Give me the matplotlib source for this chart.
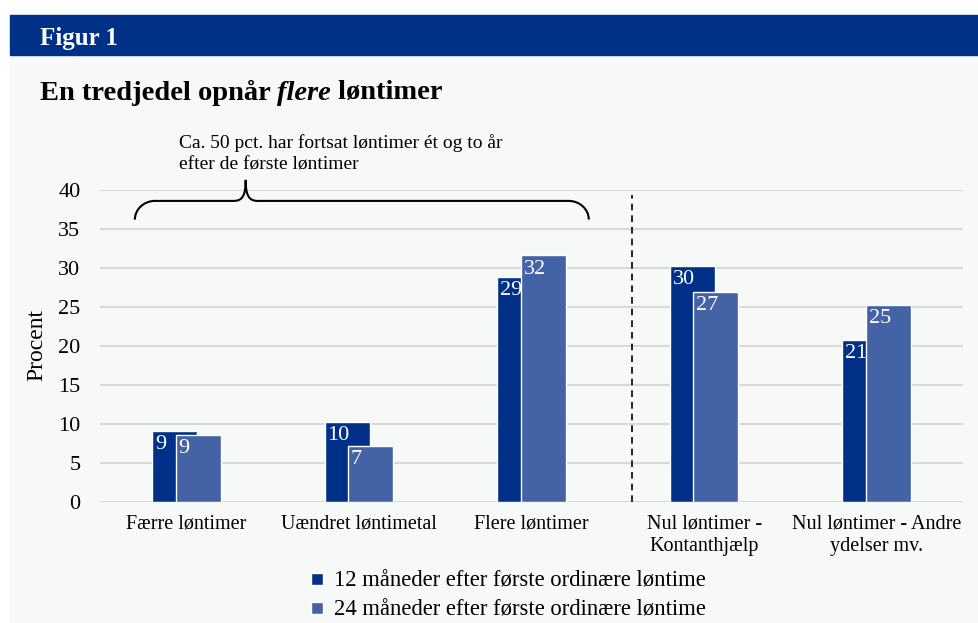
import matplotlib
matplotlib.use("Agg")
import matplotlib.pyplot as plt
from matplotlib.patches import Rectangle
from matplotlib.path import Path
from matplotlib.patches import PathPatch
from matplotlib.lines import Line2D
import numpy as np

# Data
categories = ["Færre løntimer", "Uændret løntimetal", "Flere løntimer",
              "Nul løntimer -\nKontanthjælp", "Nul løntimer - Andre\nydelser mv."]
values_12 = [9.1, 10.2, 28.8, 30.3, 20.8]
values_24 = [8.6, 7.2, 31.6, 26.9, 25.2]
series_names = ["12 måneder efter første ordinære løntime",
                "24 måneder efter første ordinære løntime"]
yticks = [0, 5, 10, 15, 20, 25, 30, 35, 40]

DARK = "#003087"
LIGHT = "#4363A6"
BG = "#F7F8F8"
GRID = "#D9D9D9"
FONT = "Liberation Serif"

plt.rcParams['font.family'] = [FONT, 'DejaVu Serif']

W, H = 979, 623
fig = plt.figure(figsize=(W / 100, H / 100), dpi=100)
fig.patch.set_facecolor("white")

# Background panel and header band
fig.patches.append(Rectangle((10 / W, 0), 1 - 10 / W, 1 - 55 / H,
                             transform=fig.transFigure, color=BG, zorder=-10))
fig.patches.append(Rectangle((10 / W, 1 - 55 / H), 1 - 10 / W, 40 / H,
                             transform=fig.transFigure, color=DARK, zorder=-10))

fig.text(40 / W, 1 - 44.5 / H, "Figur 1", color="white", fontsize=18,
         fontweight="bold", va="baseline", ha="left")

# Title with italic word
title_y = 1 - 99.5 / H
t1 = fig.text(40 / W, title_y, "En tredjedel opnår ", fontsize=20.5,
              fontweight="bold", va="baseline", ha="left")
fig.canvas.draw()
r = fig.canvas.get_renderer()
x2 = t1.get_window_extent(r).x1 / W
t2 = fig.text(x2, title_y, "flere", fontsize=20.5, fontweight="bold",
              fontstyle="italic", va="baseline", ha="left")
x3 = t2.get_window_extent(r).x1 / W
fig.text(x3, title_y, " løntimer", fontsize=20.5, fontweight="bold",
         va="baseline", ha="left")

ax = fig.add_axes([100 / W, 1 - 501.7 / H, 863 / W, (501.7 - 190) / H])
ax.set_facecolor("none")

x = np.arange(len(categories))
bw = 0.261
off = 0.068
bars12 = ax.bar(x - off, values_12, bw, color=DARK, edgecolor="white",
                linewidth=1, zorder=3)
bars24 = ax.bar(x + off, values_24, bw, color=LIGHT, edgecolor="white",
                linewidth=1, zorder=4)

for bars, vals in ((bars12, values_12), (bars24, values_24)):
    for b, v in zip(bars, vals):
        ax.annotate(f"{int(v + 0.5)}", (b.get_x(), v), xytext=(2, -3),
                    textcoords="offset points", ha="left", va="top",
                    color="white", fontsize=16, zorder=5)

ax.set_xlim(-0.5, len(categories) - 0.5)
ax.set_ylim(0, 40)
ax.set_yticks(yticks)
ax.set_xticks(x)
ax.set_xticklabels(categories, fontsize=14.5, linespacing=1.3)
ax.tick_params(axis="y", length=0, pad=14, labelsize=16)
ax.tick_params(axis="x", length=0, pad=9)
ax.grid(axis="y", color=GRID, linewidth=1.5, zorder=0)
ax.set_axisbelow(True)
for s in ax.spines.values():
    s.set_visible(False)

fig.text(37 / W, 1 - 345 / H, "Procent", rotation=90, fontsize=17,
         ha="center", va="center")

# Dashed separator
ax.plot([2.58, 2.58], [0, 39.4], color="black", linestyle=(0, (4, 3)),
        linewidth=1.2, zorder=2, clip_on=False)

# Curly brace over the first three groups
xl, xr, xt = -0.298, 2.332, 0.344
yb, ym, ytip = 36.2, 38.6, 41.3
dx = 0.116
tx = 0.07
verts = [(xl, yb), (xl, yb + 0.55 * (ym - yb)), (xl + 0.45 * dx, ym), (xl + dx, ym),
         (xt - tx, ym),
         (xt - 0.3 * tx, ym), (xt, ym + 0.6), (xt, ytip),
         (xt, ym + 0.6), (xt + 0.3 * tx, ym), (xt + tx, ym),
         (xr - dx, ym),
         (xr - 0.45 * dx, ym), (xr, yb + 0.55 * (ym - yb)), (xr, yb)]
codes = [Path.MOVETO, Path.CURVE4, Path.CURVE4, Path.CURVE4,
         Path.LINETO,
         Path.CURVE4, Path.CURVE4, Path.CURVE4,
         Path.CURVE4, Path.CURVE4, Path.CURVE4,
         Path.LINETO,
         Path.CURVE4, Path.CURVE4, Path.CURVE4]
ax.add_patch(PathPatch(Path(verts, codes), facecolor="none",
                       edgecolor="black", linewidth=1.5, clip_on=False,
                       zorder=6))

fig.text(179 / W, 1 - 147.5 / H, "Ca. 50 pct. har fortsat løntimer ét og to år",
         fontsize=14, va="baseline", ha="left")
fig.text(179 / W, 1 - 169.5 / H, "efter de første løntimer",
         fontsize=14, va="baseline", ha="left")

handles = [Line2D([], [], marker="s", linestyle="none", color=DARK,
                  markeredgecolor="white", markersize=8),
           Line2D([], [], marker="s", linestyle="none", color=LIGHT,
                  markeredgecolor="white", markersize=8)]
fig.legend(handles, series_names, loc="center",
           bbox_to_anchor=(507 / W, 1 - 595.5 / H), frameon=False,
           fontsize=16.3, handlelength=0.7, handletextpad=0.4,
           labelspacing=0.36, borderaxespad=0)

fig.savefig("out.png", dpi=100)
